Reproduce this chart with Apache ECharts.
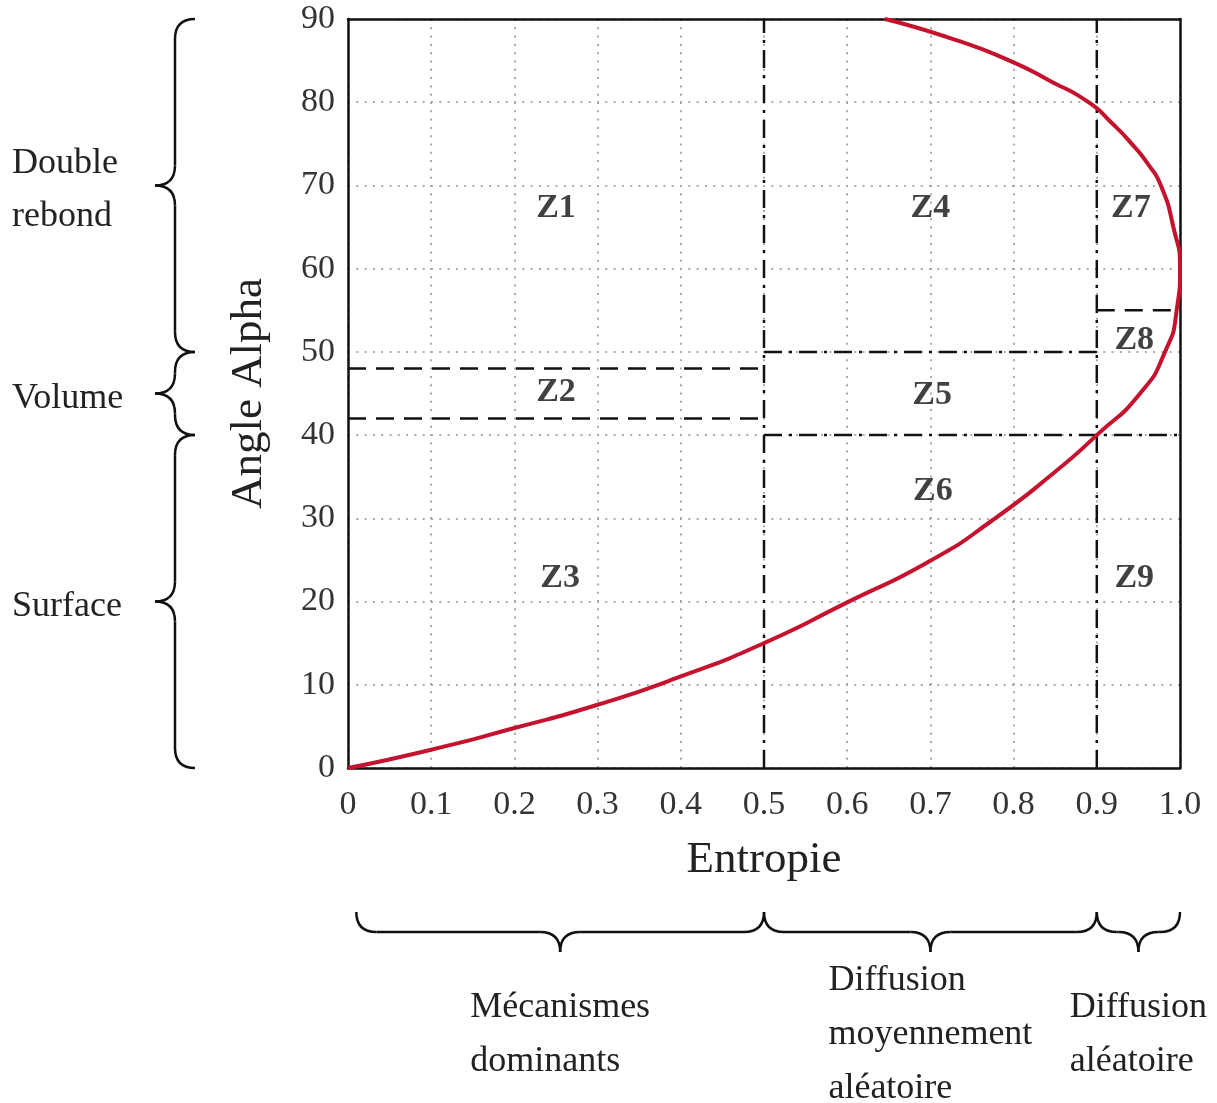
<!DOCTYPE html>
<html>
<head>
<meta charset="utf-8">
<script src="https://cdn.jsdelivr.net/npm/echarts@6/dist/echarts.min.js"></script>
<style>
  html, body { margin: 0; padding: 0; background: #fff; }
  #chart { width: 1217px; height: 1103px; }
</style>
</head>
<body>
<div id="chart"></div>
<script>
// boundary curve of the H / alpha plane, [entropie, angle]
var curvePoints = [
  [0, 0], [0.1, 2.2], [0.2, 4.8], [0.3, 7.6], [0.4, 11], [0.5, 15],
  [0.6, 19.9], [0.7, 24.9], [0.775, 29.8], [0.85, 35.6], [0.9, 40],
  [0.952, 45], [0.982, 50], [0.996, 55], [1.0, 60], [0.992, 65], [0.977, 70],
  [0.962, 72.5], [0.942, 75], [0.918, 77.5], [0.89, 80], [0.845, 82.5],
  [0.795, 85], [0.73, 87.5], [0.645, 90]
]

// zone borders
var dashDotSegments = [
  [[0.5, 0], [0.5, 90]],
  [[0.9, 0], [0.9, 90]],
  [[0.5, 50], [0.9, 50]],
  [[0.5, 40], [1.0, 40]]
]
var dashedSegments = [
  [[0, 48], [0.5, 48]],
  [[0, 42], [0.5, 42]],
  [[0.9, 55], [1.0, 55]]
]

var zoneNames = ['Z1', 'Z2', 'Z3', 'Z4', 'Z5', 'Z6', 'Z7', 'Z8', 'Z9']
var zoneH = [0.25, 0.25, 0.255, 0.7, 0.702, 0.703, 0.941, 0.945, 0.945]
var zoneAlpha = [67.3, 45.2, 22.8, 67.3, 44.8, 33.2, 67.3, 51.4, 22.8]

var xTicks = ['0', '0.1', '0.2', '0.3', '0.4', '0.5', '0.6', '0.7', '0.8', '0.9', '1.0']
var yTicks = ['0', '10', '20', '30', '40', '50', '60', '70', '80', '90']

var leftRanges = [[50, 90], [40, 50], [0, 40]]
var leftLabels = ['Double\nrebond', 'Volume', 'Surface']
var bottomRanges = [[0.01, 0.5], [0.5, 0.9], [0.9, 1.0]]
var bottomLabels = ['Mécanismes\ndominants', 'Diffusion\nmoyennement\naléatoire', 'Diffusion\naléatoire']

var serif = '"Liberation Serif", "DejaVu Serif", serif'
var textFont = '36px ' + serif
var chart = echarts.init(document.getElementById('chart'))

var series = []
dashDotSegments.forEach(function (seg) {
  series.push({
    type: 'line', data: seg, symbol: 'none', silent: true, z: 3,
    lineStyle: { color: '#111', width: 2.5, type: [18, 7, 3, 7] }
  })
})
dashedSegments.forEach(function (seg) {
  series.push({
    type: 'line', data: seg, symbol: 'none', silent: true, z: 3,
    lineStyle: { color: '#111', width: 2.5, type: [18, 10] }
  })
})
series.push({
  type: 'line',
  data: curvePoints,
  symbol: 'none',
  smooth: 0.6,
  z: 4,
  lineStyle: { color: '#c4122f', width: 4 }
})
series.push({
  type: 'scatter',
  data: zoneNames.map(function (n, i) { return { name: n, value: [zoneH[i], zoneAlpha[i]] } }),
  symbolSize: 1,
  itemStyle: { color: 'transparent' },
  z: 5,
  label: {
    show: true,
    position: 'inside',
    formatter: '{b}',
    fontFamily: serif,
    fontWeight: 'bold',
    fontSize: 34,
    color: '#111'
  }
})

var option = {
  animation: false,
  backgroundColor: '#fff',
  grid: { left: 348, right: 37, top: 19, bottom: 335 },
  xAxis: [{
    type: 'value',
    min: 0, max: 1, interval: 0.1,
    name: 'Entropie',
    nameLocation: 'middle',
    nameGap: 70,
    nameTextStyle: { fontFamily: serif, fontSize: 45, color: '#222' },
    axisLine: { show: true, lineStyle: { color: '#111', width: 2.5 } },
    axisTick: { show: false },
    axisLabel: {
      margin: 20, fontFamily: serif, fontSize: 34, color: '#333',
      formatter: function (v) { return xTicks[Math.round(v * 10)] }
    },
    splitLine: { show: true, lineStyle: { color: '#aaa', width: 2, type: [2, 6.3] } }
  }, {
    type: 'value', position: 'top', min: 0, max: 1,
    axisLine: { show: true, onZero: false, lineStyle: { color: '#111', width: 2.5 } },
    axisTick: { show: false }, axisLabel: { show: false }, splitLine: { show: false }
  }],
  yAxis: [{
    type: 'value',
    min: 0, max: 90, interval: 10,
    name: 'Angle Alpha',
    nameLocation: 'middle',
    nameGap: 76,
    nameTextStyle: { fontFamily: serif, fontSize: 45, color: '#222' },
    axisLine: { show: true, lineStyle: { color: '#111', width: 2.5 } },
    axisTick: { show: false },
    axisLabel: {
      margin: 13, fontFamily: serif, fontSize: 34, color: '#333',
      formatter: function (v) { return yTicks[Math.round(v / 10)] }
    },
    splitLine: { show: true, lineStyle: { color: '#aaa', width: 2, type: [2, 6.3] } }
  }, {
    type: 'value', position: 'right', min: 0, max: 90,
    axisLine: { show: true, onZero: false, lineStyle: { color: '#111', width: 2.5 } },
    axisTick: { show: false }, axisLabel: { show: false }, splitLine: { show: false }
  }],
  series: series
}
chart.setOption(option)

// braces and their labels, placed from axis values
function px(v) { return chart.convertToPixel({ xAxisIndex: 0, yAxisIndex: 0 }, v) }

var ctx = document.createElement('canvas').getContext('2d')
ctx.font = textFont
function blockWidth(t) {
  return Math.max.apply(null, t.split('\n').map(function (l) { return ctx.measureText(l).width }))
}

var braceStyle = { stroke: '#111', lineWidth: 2.5, fill: null }
function curve(x1, y1, cx, cy, x2, y2) {
  return { type: 'bezierCurve', silent: true, shape: { x1: x1, y1: y1, cpx1: cx, cpy1: cy, x2: x2, y2: y2 }, style: braceStyle }
}
function seg(x1, y1, x2, y2) {
  return { type: 'line', silent: true, shape: { x1: x1, y1: y1, x2: x2, y2: y2 }, style: braceStyle }
}

var graphics = []
leftRanges.forEach(function (r, i) {
  var y1 = px([0, r[1]])[1], y2 = px([0, r[0]])[1], ym = (y1 + y2) / 2
  var xe = 195, xs = 175, xt = 155, c = 20
  graphics.push(
    curve(xe, y1, xs, y1, xs, y1 + c),
    seg(xs, y1 + c, xs, ym - c),
    curve(xs, ym - c, xs, ym, xt, ym),
    curve(xt, ym, xs, ym, xs, ym + c),
    seg(xs, ym + c, xs, y2 - c),
    curve(xs, y2 - c, xs, y2, xe, y2)
  )
  graphics.push({
    type: 'text', x: 12, y: ym + 5, silent: true,
    style: { text: leftLabels[i], font: textFont, fill: '#222', verticalAlign: 'middle', lineHeight: 53 }
  })
})
bottomRanges.forEach(function (r, i) {
  var x1 = px([r[0], 0])[0], x2 = px([r[1], 0])[0], xm = (x1 + x2) / 2
  var ye = 912, ys = 932, yt = 952, c = 20
  graphics.push(
    curve(x1, ye, x1, ys, x1 + c, ys),
    seg(x1 + c, ys, xm - c, ys),
    curve(xm - c, ys, xm, ys, xm, yt),
    curve(xm, yt, xm, ys, xm + c, ys),
    seg(xm + c, ys, x2 - c, ys),
    curve(x2 - c, ys, x2, ys, x2, ye)
  )
  graphics.push({
    type: 'text', x: xm - blockWidth(bottomLabels[i]) / 2, y: 1035, silent: true,
    style: { text: bottomLabels[i], font: textFont, fill: '#222', verticalAlign: 'middle', lineHeight: 54 }
  })
})
chart.setOption({ graphic: graphics })
</script>
</body>
</html>
